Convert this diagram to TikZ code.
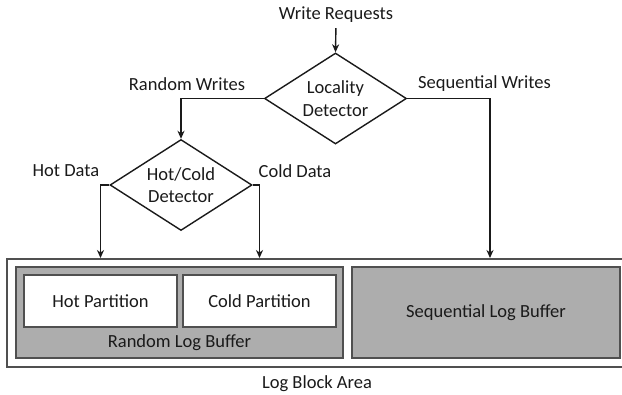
\documentclass[tikz,border=0pt]{standalone}
\usepackage{fontspec}
\setmainfont{Carlito}
\usetikzlibrary{shapes.geometric,arrows.meta,calc}
\definecolor{ink}{HTML}{1A1A1A}
\definecolor{boxline}{HTML}{505050}
\definecolor{bufgray}{HTML}{ADADAD}
\begin{document}
\begin{tikzpicture}[x=1pt,y=-1pt,
  every node/.style={font=\fontsize{18.5}{22.5}\selectfont, text=ink},
  decision/.style={diamond, draw=ink, line width=1.4pt, fill=white,
    minimum width=142pt, minimum height=91pt, aspect=1.56, inner sep=0pt, align=center},
  flow/.style={draw=ink, line width=1.4pt, -{Stealth[length=8pt,width=7pt,inset=2.5pt]}},
  tag/.style={inner sep=0pt},
  buffer/.style={draw=boxline, line width=1.9pt, fill=bufgray, inner sep=0pt},
  partition/.style={draw=boxline, line width=1.9pt, fill=white, inner sep=0pt}]
\useasboundingbox (0,0) rectangle (622,395);

% storage area
\node[draw=boxline, line width=1.9pt, fill=white, minimum width=621pt, minimum height=108pt, inner sep=0pt] (area) at (317.5,313) {};
\node[buffer, minimum width=327pt, minimum height=91pt] (rlb) at (179.5,312.5) {};
\node[partition, minimum width=153pt, minimum height=52pt] (hot) at (100.5,301) {Hot Partition};
\node[partition, minimum width=153pt, minimum height=52pt] (cold) at (259.5,301) {Cold Partition};
\node[tag] (rlbtext) at (179.5,343) {Random Log Buffer};
\node[buffer, minimum width=268pt, minimum height=91pt] (slb) at (486,312.5) {Sequential Log Buffer};
\node[tag] (areatext) at (317,384) {Log Block Area};

% decision logic
\node[tag] (wr) at (336,15) {Write Requests};
\node[decision] (loc) at (335.5,98.5) {Locality\\Detector};
\node[decision] (hc) at (181,185) {Hot/Cold\\Detector};

\node[tag] (rw) at (187,84) {Random Writes};
\node[tag] (sw) at (484.5,84) {Sequential Writes};
\node[tag] (hd) at (66,171) {Hot Data};
\node[tag] (cd) at (295,171) {Cold Data};

\coordinate (seqx) at (490,0);

\draw[flow, shorten <=5pt] (wr.south) -- (loc.north);
\draw[flow] (loc.west) -| (hc.north);
\draw[flow] (loc.east) -| (area.north -| seqx);
\draw[flow] (hc.west) -| (area.north -| hot.center);
\draw[flow] (hc.east) -| (area.north -| cold.center);
\end{tikzpicture}
\end{document}
